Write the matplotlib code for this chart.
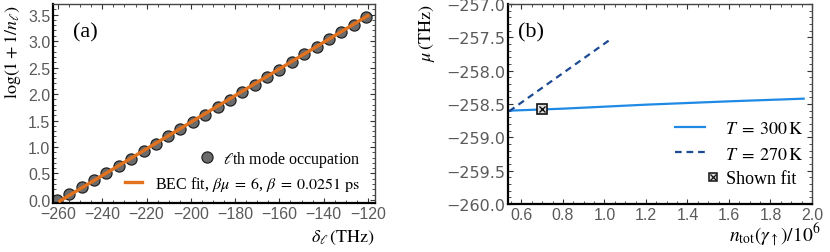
import matplotlib
matplotlib.use("Agg")
import matplotlib.pyplot as plt
from matplotlib.legend import Legend
from matplotlib.ticker import MultipleLocator

plt.rcParams['font.family'] = ['Liberation Serif', 'DejaVu Serif']
plt.rcParams['mathtext.fontset'] = 'stix'

# panel (a): mode occupation vs detuning
delta = [-260.5, -254.9, -249.3, -243.8, -238.2, -232.6, -227.0, -221.4, -215.8,
         -210.3, -204.7, -199.1, -193.5, -187.9, -182.3, -176.7, -171.1, -165.6,
         -160.0, -154.4, -148.8, -143.2, -137.6, -132.1, -126.5, -120.9]
occ = [0.00, 0.12, 0.25, 0.37, 0.51, 0.64, 0.78, 0.92, 1.06, 1.20, 1.34, 1.47, 1.61,
       1.75, 1.89, 2.03, 2.17, 2.32, 2.46, 2.61, 2.75, 2.89, 3.03, 3.17, 3.31, 3.45]
fit_x = [-259.2, -120.0]
fit_y = [-0.02, 3.48]

# panel (b): chemical potential vs total number
n300 = [0.54, 0.8, 1.2, 1.6, 1.96]
mu300 = [-258.60, -258.57, -258.51, -258.46, -258.42]
n270 = [0.54, 1.02]
mu270 = [-258.61, -257.55]
fit_n = [0.70]
fit_mu = [-258.57]

TICK_GRAY = '#5a5a5a'


def style_axes(ax, ylab_font=None):
    for side in ['left', 'bottom']:
        ax.spines[side].set_linewidth(1.6)
        ax.spines[side].set_color('black')
    for side in ['top', 'right']:
        ax.spines[side].set_linewidth(1.0)
        ax.spines[side].set_color('#444444')
    ax.tick_params(which='both', direction='in', top=True, right=True,
                   labelcolor=TICK_GRAY, labelsize=11.5, pad=2, color='#333333')
    ax.tick_params(which='major', length=3.5, width=0.8)
    ax.tick_params(which='minor', length=2, width=0.6)
    for lab in ax.get_xticklabels():
        lab.set_family(['Liberation Sans', 'DejaVu Sans'])
    for lab in ax.get_yticklabels():
        lab.set_family(ylab_font or ['Liberation Sans', 'DejaVu Sans'])


def row_legend(ax, handle, label, loc, anchor, fs, hl, pad):
    # one legend per row so each handle sits right next to its text
    leg = Legend(ax, [handle], [label], loc=loc, bbox_to_anchor=anchor,
                 frameon=False, fontsize=fs, handlelength=hl, handletextpad=pad,
                 borderpad=0, borderaxespad=0)
    ax.add_artist(leg)


fig = plt.figure(figsize=(8.3, 2.53), dpi=100)
W, H = 830, 253
ax1 = fig.add_axes([53 / W, (H - 204) / H, (375 - 53) / W, (204 - 5) / H])
ax2 = fig.add_axes([508 / W, (H - 205) / H, (812 - 508) / W, (205 - 5) / H])

# (a)
pts, = ax1.plot(delta, occ, 'o', ms=8, mfc='#6b6b6b', mec='#222222', mew=0.9, zorder=2)
fit, = ax1.plot(fit_x, fit_y, '-', color='#e2711d', lw=2.4, zorder=3)
ax1.set_xlim(-262.3, -116.8)
ax1.set_ylim(-0.057, 3.70)
ax1.set_xticks(range(-260, -119, 20))
ax1.set_xticklabels(['\u2212%d' % -v for v in range(-260, -119, 20)])
ax1.xaxis.set_minor_locator(MultipleLocator(5))
ax1.set_yticks([0.5 * i for i in range(8)])
ax1.set_yticklabels(['%.1f' % (0.5 * i) for i in range(8)])
ax1.yaxis.set_minor_locator(MultipleLocator(0.1))
style_axes(ax1)
ax1.text(0.062, 0.86, '(a)', transform=ax1.transAxes, fontsize=16, va='center')
row_legend(ax1, pts, r'$\ell$th mode occupation', 'center right',
           (0.953, 0.221), 11.5, 1.0, 0.45)
row_legend(ax1, fit, r'BEC fit, $\beta\mu\;=\;6$, $\beta\;=\;0.0251\;\mathrm{ps}$',
           'center right', (0.953, 0.10), 11.5, 1.1, 0.8)
fig.text(375 / W, 1 - 242 / H, r'$\delta_\ell\,(\mathrm{THz})$', ha='right',
         va='baseline', fontsize=13)
fig.text(3 / W, 1 - 5 / H, r'$\log(1+1/n_\ell)$', ha='left', va='top',
         rotation=90, fontsize=13)

# (b)
l300, = ax2.plot(n300, mu300, '-', color='#1f8ae6', lw=1.6)
l270, = ax2.plot(n270, mu270, '--', color='#1c4a93', lw=1.6, dashes=(3, 2.2))
ax2.plot(fit_n, fit_mu, 's', ms=7, mfc='#dddddd', mec='#111111', mew=1.2,
         linestyle='none', zorder=4)
ax2.plot(fit_n, fit_mu, 'x', ms=5, color='#111111', mew=1.0,
         linestyle='none', zorder=5)
sq, = ax2.plot([], [], 's', ms=6, mfc='#dddddd', mec='#111111', mew=1.1, linestyle='none')
xx, = ax2.plot([], [], 'x', ms=4.3, color='#111111', mew=0.9, linestyle='none')
ax2.set_xlim(0.535, 2.0)
ax2.set_ylim(-260.0, -257.0)
ax2.set_xticks([0.6 + 0.2 * i for i in range(8)])
ax2.set_xticklabels(['%.1f' % (0.6 + 0.2 * i) for i in range(8)])
ax2.xaxis.set_minor_locator(MultipleLocator(0.05))
ax2.set_yticks([-260.0 + 0.5 * i for i in range(7)])
ax2.set_yticklabels(['\u2212%.1f' % (260.0 - 0.5 * i) for i in range(7)])
ax2.yaxis.set_minor_locator(MultipleLocator(0.1))
style_axes(ax2, ylab_font=['DejaVu Sans'])
ax2.text(0.033, 0.86, '(b)', transform=ax2.transAxes, fontsize=16, va='center')
row_legend(ax2, l300, r'$T\;=\;300\,\mathrm{K}$', 'center left',
           (0.549, 0.375), 13, 1.67, 1.1)
row_legend(ax2, l270, r'$T\;=\;270\,\mathrm{K}$', 'center left',
           (0.549, 0.25), 13, 1.67, 1.1)
row_legend(ax2, (sq, xx), 'Shown fit', 'center left',
           (0.651, 0.125), 13, 0.8, 0.3)
fig.text(820 / W, 1 - 242 / H, r'$n_{\mathrm{tot}}(\gamma_\uparrow)/10^6$', ha='right',
         va='baseline', fontsize=14)
fig.text(417 / W, 1 - 5 / H, r'$\mu\,(\mathrm{THz})$', ha='left', va='top',
         rotation=90, fontsize=13)

fig.savefig('out.png', dpi=100)
